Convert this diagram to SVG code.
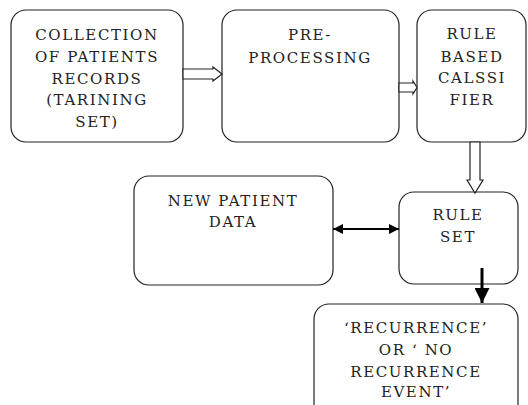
<svg xmlns="http://www.w3.org/2000/svg" width="528" height="405" viewBox="0 0 528 405">
<style>
.box{fill:#fff;stroke:#222;stroke-width:1.2}
.t{font-family:'DejaVu Serif','Liberation Serif',serif;font-size:15px;letter-spacing:1.6px;fill:#222;text-anchor:middle}
.hol{fill:#fff;stroke:#222;stroke-width:1.2;stroke-linejoin:miter}
.ln{stroke:#000;fill:none}
</style>
<defs>
<marker id="ah" viewBox="0 0 10 10" refX="10" refY="5" markerWidth="10" markerHeight="10" markerUnits="userSpaceOnUse" orient="auto-start-reverse">
<path d="M0,0 L10,5 L0,10 Z" fill="#000"/>
</marker>
<marker id="ah2" viewBox="0 0 10 10" refX="10" refY="5" markerWidth="15" markerHeight="15" markerUnits="userSpaceOnUse" orient="auto">
<path d="M0,0 L10,5 L0,10 Z" fill="#000"/>
</marker>
</defs>
<rect width="528" height="405" fill="#fff"/>
<g id="n1">
<rect class="box" x="11" y="10" width="172" height="132" rx="15"/>
<text class="t"><tspan x="97" y="40">COLLECTION</tspan><tspan x="97" y="62">OF PATIENTS</tspan><tspan x="97" y="84">RECORDS</tspan><tspan x="97" y="105">(TARINING</tspan><tspan x="97" y="127">SET)</tspan></text>
</g>
<g id="n2">
<rect class="box" x="222" y="10" width="177" height="132" rx="15"/>
<text class="t"><tspan x="310" y="40">PRE-</tspan><tspan x="310" y="63">PROCESSING</tspan></text>
</g>
<g id="n3">
<rect class="box" x="417" y="10" width="109" height="132" rx="15"/>
<text class="t"><tspan x="472" y="39">RULE</tspan><tspan x="472" y="62">BASED</tspan><tspan x="472" y="83">CALSSI</tspan><tspan x="472" y="105">FIER</tspan></text>
</g>
<g id="n4">
<rect class="box" x="134" y="176" width="199" height="109" rx="15"/>
<text class="t"><tspan x="233" y="206">NEW PATIENT</tspan><tspan x="233" y="227">DATA</tspan></text>
</g>
<g id="n5">
<rect class="box" x="399" y="192" width="119" height="92" rx="15"/>
<text class="t"><tspan x="458" y="220">RULE</tspan><tspan x="458" y="242">SET</tspan></text>
</g>
<g id="n6">
<rect class="box" x="314" y="304" width="204" height="115" rx="15"/>
<text class="t"><tspan x="416" y="333">‘RECURRENCE’</tspan><tspan x="416" y="355">OR ‘ NO</tspan><tspan x="416" y="377">RECURRENCE</tspan><tspan x="416" y="397">EVENT’</tspan></text>
</g>
<g id="connectors">
<polygon class="hol" points="183,69 213,69 213,67 222,74 213,81 213,79 183,79"/>
<polygon class="hol" points="399,83 413,83 413,81 417,87.5 413,94 413,92 399,92"/>
<polygon class="hol" points="470,142 480,142 480,180 483,180 475,193 467,180 470,180"/>
<line class="ln" x1="333" y1="229" x2="399" y2="229" stroke-width="2.2" marker-start="url(#ah)" marker-end="url(#ah)"/>
<line class="ln" x1="482" y1="268" x2="482" y2="303" stroke-width="3" marker-end="url(#ah2)"/>
</g>
</svg>
